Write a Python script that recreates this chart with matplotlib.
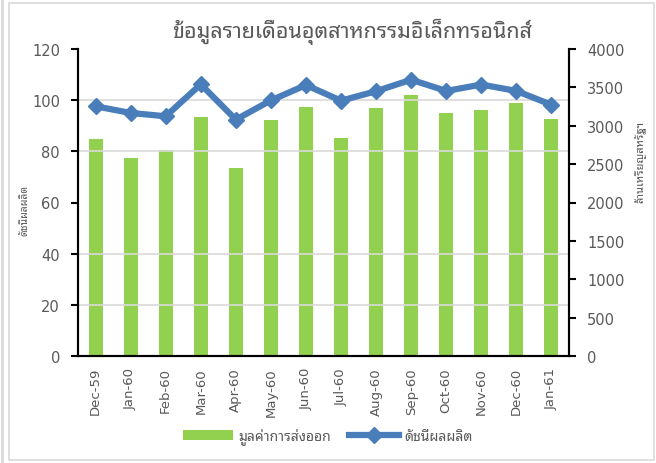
import matplotlib
matplotlib.use('Agg')
import matplotlib.pyplot as plt
from matplotlib.ticker import MultipleLocator
from matplotlib.patches import Rectangle
from matplotlib.lines import Line2D
import numpy as np

plt.rcParams['font.family'] = ['DejaVu Sans', 'Noto Sans Thai', 'Sarabun']
thai = ['Noto Sans Thai Looped', 'Noto Sans Thai', 'Sarabun', 'DejaVu Sans']

months = ['Dec-59', 'Jan-60', 'Feb-60', 'Mar-60', 'Apr-60', 'May-60', 'Jun-60',
          'Jul-60', 'Aug-60', 'Sep-60', 'Oct-60', 'Nov-60', 'Dec-60', 'Jan-61']
export_value = [2827, 2580, 2680, 3110, 2445, 3079, 3244,
                2844, 3227, 3396, 3162, 3209, 3296, 3092]   # ล้านเหรียญสหรัฐฯ
prod_index = [97.6, 95.0, 93.7, 106.2, 92.4, 99.9, 105.9,
              99.8, 103.5, 108.0, 103.6, 106.1, 103.6, 98.2]

green = '#92D050'
blue = '#4A7EBB'
gray = '#595959'

fig = plt.figure(figsize=(6.56, 4.64), dpi=100)
ax = fig.add_axes([78/656, 1-357/464, 491/656, 307/464])
ax2 = ax.twinx()

x = np.arange(len(months))
bars = ax2.bar(x, export_value, width=0.4, color=green, label='มูลค่าการส่งออก')
ln, = ax.plot(x, prod_index, color=blue, lw=4.5, marker='D', ms=8,
              label='ดัชนีผลผลิต')

# line above bars, gridlines behind bars
ax.set_zorder(ax2.get_zorder() + 1)
ax.patch.set_visible(False)

ax.set_ylim(0, 120)
ax2.set_ylim(0, 4000)
ax.set_xlim(-0.5, len(months) - 0.5)
ax.yaxis.set_major_locator(MultipleLocator(20))
ax2.yaxis.set_major_locator(MultipleLocator(500))
ax2.yaxis.set_minor_locator(MultipleLocator(4000 / 6))
ax2.grid(which='minor', axis='y', color='#D9D9D9', lw=1.2)
ax2.tick_params(which='minor', length=0)

ax.set_xticks(x)
ax.set_xticklabels(months, rotation=90, fontsize=9.5, color=gray)
ax.tick_params(axis='x', length=0, pad=8)
ax.tick_params(axis='y', direction='out', length=5, width=1.5, labelsize=10.5,
               labelcolor=gray, pad=8)
ax2.tick_params(axis='y', direction='out', length=5, width=1.5, labelsize=10.5,
                labelcolor=gray, pad=8)

for a in (ax, ax2):
    a.spines['top'].set_visible(False)
    for s in ('left', 'right', 'bottom'):
        a.spines[s].set_linewidth(1.5)
        a.spines[s].set_color('black')

ax.set_ylabel('ดัชนีผลผลิต', family=thai, fontsize=7.5, color=gray)
ax.yaxis.set_label_coords(-0.096, 0.479)
ax2.set_ylabel('ล้านเหรียญสหรัฐฯ', family=thai, fontsize=8, color=gray, rotation=90)
ax2.yaxis.set_label_coords(1.134, 0.635)

fig.text(352/656, 1-32/464, 'ข้อมูลรายเดือนอุตสาหกรรมอิเล็กทรอนิกส์', family=thai,
         fontsize=15.5, color=gray, ha='center', va='center')

fig.legend([bars, ln], ['มูลค่าการส่งออก', 'ดัชนีผลผลิต'], loc='center',
           bbox_to_anchor=(328/656, 1-437/464), ncol=2, frameon=False,
           prop={'family': thai, 'size': 10}, handlelength=3.6,
           handletextpad=0.4, columnspacing=1.3, labelcolor=gray)

# chart area border and the edge of the sheet on the left
fig.patches.append(Rectangle((9/656, 3/464), 645/656, 457/464, transform=fig.transFigure,
                             fill=False, ec='#D9D9D9', lw=1.2))
fig.lines.append(Line2D([1.5/656, 1.5/656], [0, 1], transform=fig.transFigure,
                        color='#D9D9D9', lw=2))

fig.savefig('out.png', dpi=100)
